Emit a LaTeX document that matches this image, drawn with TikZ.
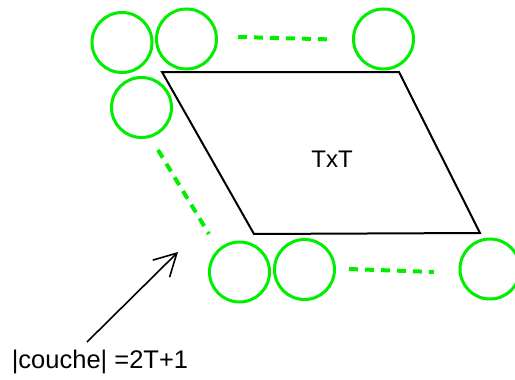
\documentclass[tikz,border=0pt]{standalone}
\usepackage{fontspec}
\setmainfont{Liberation Sans}
\usetikzlibrary{arrows.meta}
\definecolor{brightgreen}{RGB}{0,238,0}
\begin{document}
\begin{tikzpicture}[x=1pt,y=-1pt,
  ring/.style={draw=brightgreen,line width=3pt,circle,minimum size=60pt,inner sep=0pt},
  dots/.style={draw=brightgreen,line width=4pt,dash pattern=on 9pt off 7pt},
  edge/.style={draw=black,line width=2pt,line join=miter},
  lbl/.style={font=\fontsize{24}{28}\selectfont,inner sep=0pt}]
\useasboundingbox (0,0) rectangle (515,380);
% parallelogram
\coordinate (p1) at (162,72);
\coordinate (p2) at (399,72);
\coordinate (p3) at (480,233);
\coordinate (p4) at (254,234);
\draw[edge] (p1) -- (p2) -- (p3) -- (p4) -- cycle;
\node[lbl] (txt) at (332,159) {TxT};
% circles
\node[ring] (c1) at (122,42.5) {};
\node[ring] (c2) at (186.5,39) {};
\node[ring] (c3) at (383.5,39) {};
\node[ring] (c4) at (141.5,107.5) {};
\node[ring] (c5) at (239.5,272) {};
\node[ring] (c6) at (304.5,269.5) {};
\node[ring] (c7) at (490,269) {};
% dashed continuation lines
\coordinate (d1a) at (238,37);
\coordinate (d1b) at (334,39.5);
\draw[dots] (d1a) -- (d1b);
\coordinate (d2a) at (158,150);
\coordinate (d2b) at (209,234);
\draw[dots] (d2a) -- (d2b);
\coordinate (d3a) at (349,269);
\coordinate (d3b) at (434,272);
\draw[dots] (d3a) -- (d3b);
% label and arrow
\node[lbl,font=\fontsize{25.5}{30}\selectfont] (couche) at (100,362) {|couche| =2T+1};
\coordinate (tip) at (178,252);
\coordinate (tail) at (87,342);
\draw[line width=1.6pt,-{Straight Barb[length=22pt,width=24pt,line width=1.6pt]}] (tail) -- (tip);
\end{tikzpicture}
\end{document}
